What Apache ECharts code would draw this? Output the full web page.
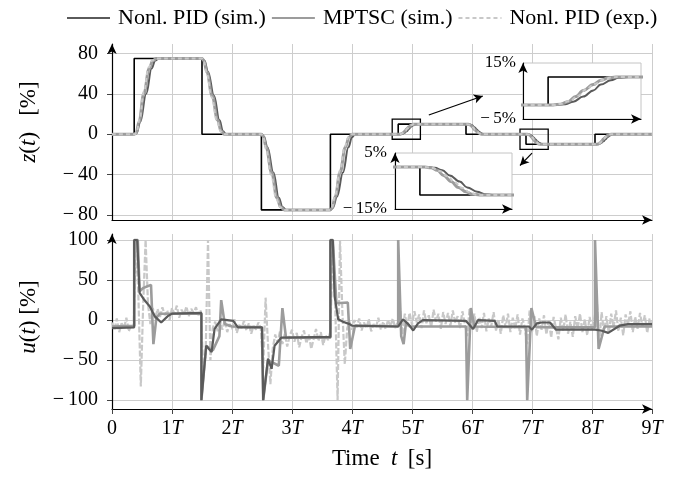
<!DOCTYPE html>
<html><head><meta charset="utf-8">
<script src="https://cdn.jsdelivr.net/npm/echarts@6/dist/echarts.min.js"></script>
<style>html,body{margin:0;padding:0;background:#fff}#c{width:685px;height:477px}</style>
</head><body><div id="c"></div><script>
// ---------- DATA (time in units of T) ----------
const xTickLabels = ['0','1{i|T}','2{i|T}','3{i|T}','4{i|T}','5{i|T}','6{i|T}','7{i|T}','8{i|T}','9{i|T}'];
const zTicks = [-80,-40,0,40,80];
const uTicks = [-100,-50,0,50,100];
const legendNames = ['Nonl. PID (sim.)','MPTSC (sim.)','Nonl. PID (exp.)'];

// reference (setpoint), step 'end'
const refT = [0,0.37,1.50,2.49,3.64,4.77,5.90,6.90,8.05,9];
const refZ = [0,75,0,-75,0,10,0,-10,0,0];

// position z(t) [%]
const pidZ = [[0,0],[0.37,0],[0.41,1],[0.47,12],[0.57,40],[0.66,65],[0.72,73],[0.78,75],
[1.50,75],[1.54,73],[1.60,62],[1.70,38],[1.79,14],[1.85,3],[1.90,0],
[2.49,0],[2.53,-2],[2.59,-13],[2.69,-38],[2.78,-63],[2.84,-72],[2.90,-75],
[3.64,-75],[3.68,-73],[3.75,-62],[3.85,-38],[3.94,-13],[4.00,-3],[4.05,0],
[4.77,0],[4.80,0],[4.84,0.3],[4.87,1.2],[4.91,3],[4.95,5.2],[4.98,7.3],[5.02,8.8],[5.05,9.7],[5.09,10],
[5.90,10],[5.93,10],[5.97,9.7],[6.00,8.8],[6.04,7],[6.08,4.8],[6.11,2.7],[6.15,1.2],[6.18,0.3],[6.22,0],
[6.90,0],[6.93,0],[6.96,-0.3],[6.99,-1.2],[7.02,-3],[7.06,-5.2],[7.09,-7.3],[7.13,-8.8],[7.16,-9.7],[7.19,-10],
[8.05,-10],[8.08,-10],[8.12,-9.7],[8.15,-8.8],[8.19,-7],[8.23,-4.8],[8.26,-2.7],[8.30,-1.2],[8.33,-0.3],[8.37,0],[9,0]];
const mpZ = [[0,0],[0.37,0],[0.40,1],[0.45,12],[0.53,40],[0.62,65],[0.68,73],[0.74,75],
[1.50,75],[1.53,73],[1.58,62],[1.67,38],[1.76,14],[1.82,3],[1.87,0],
[2.49,0],[2.52,-2],[2.57,-13],[2.66,-38],[2.75,-63],[2.81,-72],[2.87,-75],
[3.64,-75],[3.67,-73],[3.72,-62],[3.80,-38],[3.89,-13],[3.95,-3],[4.00,0],
[4.77,0],[4.79,0],[4.82,0.3],[4.85,1.2],[4.88,3],[4.91,5.2],[4.95,7.3],[4.98,8.8],[5.01,9.7],[5.04,10],
[5.90,10],[5.92,10],[5.95,9.7],[5.98,8.8],[6.01,7],[6.04,4.8],[6.08,2.7],[6.11,1.2],[6.14,0.3],[6.17,0],
[6.90,0],[6.92,0],[6.945,-0.3],[6.97,-1.2],[6.995,-3],[7.025,-5.2],[7.055,-7.3],[7.085,-8.8],[7.11,-9.7],[7.14,-10],
[8.05,-10],[8.07,-10],[8.10,-9.7],[8.13,-8.8],[8.16,-7],[8.19,-4.8],[8.23,-2.7],[8.26,-1.2],[8.29,-0.3],[8.32,0],[9,0]];
const expZ = [[0,0],[0.38,0],[0.41,2],[0.46,15],[0.53,42],[0.61,66],[0.67,73],[0.73,75],
[1.50,75],[1.53,72],[1.58,60],[1.66,37],[1.75,13],[1.81,3],[1.86,0],
[2.49,0],[2.52,-3],[2.57,-15],[2.65,-40],[2.74,-64],[2.80,-72],[2.86,-75],
[3.64,-75],[3.67,-72],[3.72,-60],[3.80,-36],[3.88,-12],[3.94,-3],[3.99,0],
[4.77,0],[4.79,0],[4.82,0.4],[4.855,1.4],[4.89,3.3],[4.92,5.5],[4.955,7.5],[4.99,9],[5.02,9.8],[5.05,10],
[5.90,10],[5.92,10],[5.95,9.6],[5.985,8.6],[6.02,6.7],[6.05,4.5],[6.085,2.5],[6.12,1],[6.15,0.2],[6.18,0],
[6.90,0],[6.92,0],[6.95,-0.4],[6.98,-1.4],[7.01,-3.3],[7.04,-5.5],[7.07,-7.5],[7.10,-9],[7.125,-9.8],[7.15,-10],
[8.05,-10],[8.07,-10],[8.10,-9.6],[8.135,-8.6],[8.17,-6.7],[8.20,-4.5],[8.235,-2.5],[8.27,-1],[8.30,-0.2],[8.33,0],[9,0]];

// control u(t) [%]
const pidU = [[0,-10],[0.37,-9],[0.37,100],[0.42,100],[0.46,34],[0.54,25],[0.63,17],[0.71,5],[0.82,-3],[0.93,5],[1.0,8],[1.49,9],
[1.49,-100],[1.57,-32],[1.66,-40],[1.71,-11],[1.82,1],[2.02,-1],[2.1,-9],[2.5,-9],
[2.52,-100],[2.6,-48],[2.66,-61],[2.71,-32],[2.82,-22],[3.64,-21],
[3.64,100],[3.68,100],[3.71,30],[3.77,1],[3.85,-2],[3.96,-5],[4.0,-7],[4.77,-8],
[4.85,1],[4.95,-6],[5.02,-13],[5.1,-4],[5.18,0],[5.9,-1],
[6.02,-11],[6.1,0],[6.38,-1],[6.42,-8],[6.9,-8],
[6.95,-8],[7.0,-12],[7.08,-4],[7.16,-3],[7.3,-3],[7.4,-12],[8.05,-12],
[8.15,-13],[8.27,-16],[8.46,-7],[8.6,-5],[9,-5]];
const mpU = [[0,-8],[0.37,-7],[0.37,100],[0.43,100],[0.46,36],[0.52,40],[0.65,44],[0.69,-30],[0.74,3],[0.8,8],[1.49,8],
[1.49,-100],[1.57,-32],[1.68,-38],[1.79,-20],[1.82,25],[1.88,-5],[2.0,-8],[2.5,-9],
[2.52,-100],[2.6,-50],[2.78,-57],[2.84,15],[2.9,-22],[3.64,-22],
[3.64,100],[3.68,100],[3.74,21],[3.93,22],[3.97,-36],[4.05,-7],[4.77,-8],
[4.77,100],[4.82,-20],[4.86,-30],[4.9,-3],[4.96,-8],[5.9,-8],
[5.92,-100],[5.98,15],[6.04,-8],[6.9,-9],
[6.92,-100],[6.99,15],[7.07,-9],[8.05,-9],
[8.05,100],[8.11,-36],[8.21,-8],[9,-8]];
// experimental control signal, sampled every expDt
const expDt = 0.04;
const expU = [-3,-12,2,-15,-4,-10,3,-14,-6,-9,
100,30,-83,20,100,20,-5,15,
2,14,4,16,6,12,0,15,8,18,3,13,7,17,5,14,9,16,6,12,
-60,-45,100,-50,-10,-2,
-14,-3,-12,0,-15,-5,-11,1,-16,-6,-10,-1,-13,-4,-17,-7,-12,-3,-10,
-60,28,-30,-80,-35,-18,
-28,-14,-30,-17,-33,-20,-12,-27,-16,-34,-21,-13,-29,-18,-36,-24,-11,-26,-15,-31,-19,-25,-14,
100,20,-100,100,10,-55,-10,-2,
-12,0,-9,2,-13,-3,-10,1,-14,-5,-9,3,-12,-2,-11,0,-8,2,-10,-3,
15,-18,8,
-8,9,-6,11,-3,7,-10,12,-4,6,-9,13,-2,8,-11,10,-5,9,-7,12,-3,5,-10,11,-4,
-20,15,-12,8,
-15,4,-10,9,-14,2,-8,10,-13,1,-17,6,-9,8,-15,3,-11,7,-18,2,-9,
-30,12,-15,5,
-20,2,-12,6,-18,0,-22,4,-10,-24,3,-13,7,-17,-2,-21,5,-11,8,-15,1,-19,4,-12,
0,25,-30,10,-15,
5,-17,8,-9,12,-14,3,-19,7,-6,11,-15,4,-11,9,-8,6,-16,2,-7];

// zoom boxes [tMin, tMax, zMin, zMax] and pointer arrows [[t0,z0],[t1,z1]]
const zoomBoxes = [[4.67,5.14,-5,15],[6.80,7.27,-15,5]];
const zoomArrows = [[[5.28,19.1],[6.18,37.9]],[[7.00,-18.8],[6.80,-31]]];

// ---------- STYLE ----------
const FONT = "'Liberation Serif','Times New Roman',serif";
const C_PID = '#5a5a5a', C_MP = '#9c9c9c', C_EXP = '#c8c8c8';
const rich = {i:{fontStyle:'italic', fontFamily:FONT, fontSize:20}};
const minus = v => v < 0 ? '\u2212\u2009' + Math.abs(v) : String(v);

const refData = refT.map((t,i)=>[t, refZ[i]]);
const expUData = expU.map((u,i)=>[+(i*expDt).toFixed(2), u]);

function zSeries(xi, yi, zl){
  const base = {type:'line', xAxisIndex:xi, yAxisIndex:yi, symbol:'none', animation:false, zlevel:zl, clip:true};
  return [
    Object.assign({}, base, {name:'Reference', data:refData, step:'end', lineStyle:{color:'#000', width:1.6}, itemStyle:{color:'#000'}}),
    Object.assign({}, base, {name:legendNames[0], data:pidZ, smooth:0.4, smoothMonotone:'x', lineStyle:{color:C_PID, width:2}, itemStyle:{color:C_PID}}),
    Object.assign({}, base, {name:legendNames[1], data:mpZ, smooth:0.4, smoothMonotone:'x', lineStyle:{color:C_MP, width:3}, itemStyle:{color:C_MP}}),
    Object.assign({}, base, {name:legendNames[2], data:expZ, smooth:0.4, smoothMonotone:'x', lineStyle:{color:C_EXP, width:2, type:[4,3]}, itemStyle:{color:C_EXP}})
  ];
}

const topSeries = zSeries(0,0,0);
topSeries[0].markArea = {silent:true, itemStyle:{color:'rgba(0,0,0,0)', borderColor:'#000', borderWidth:1.3},
  data: zoomBoxes.map(b=>[{xAxis:b[0], yAxis:b[3]},{xAxis:b[1], yAxis:b[2]}])};
topSeries[0].markLine = {silent:true, symbol:['none','arrow'], symbolSize:[7,9], animation:false,
  lineStyle:{color:'#000', width:1.2, type:'solid'}, label:{show:false},
  data: zoomArrows.map(a=>[{coord:a[0]},{coord:a[1]}])};

const series = [
  ...topSeries,
  {type:'line', name:legendNames[2], xAxisIndex:1, yAxisIndex:1, data:expUData, symbol:'none', animation:false,
    lineStyle:{color:C_EXP, width:2.2, type:[6,2]}, itemStyle:{color:C_EXP}},
  {type:'line', name:legendNames[1], xAxisIndex:1, yAxisIndex:1, data:mpU, symbol:'none', animation:false,
    lineStyle:{color:C_MP, width:2.6}, itemStyle:{color:C_MP}},
  {type:'line', name:legendNames[0], xAxisIndex:1, yAxisIndex:1, data:pidU, symbol:'none', animation:false,
    lineStyle:{color:C_PID, width:2.2}, itemStyle:{color:C_PID}},
  ...zSeries(2,2,1),
  ...zSeries(3,3,1)
];

const arrowLine = (w)=>({show:true, onZero:false, symbol:['none','arrow'], symbolSize:[7,10], lineStyle:{color:'#000', width:w}});
const grid = {lineStyle:{color:'#cdcdcd', width:1}};
const nameRich = {i:{fontStyle:'italic', fontFamily:FONT, fontSize:23}};

const option = {
  animation:false,
  backgroundColor:'#fff',
  textStyle:{fontFamily:FONT},
  legend:{data:legendNames, left:61, top:2, itemWidth:43, itemHeight:2, itemGap:5,
    textStyle:{fontFamily:FONT, fontSize:22, color:'#000', padding:[0,0,0,3]}},
  grid:[
    {left:112, top:44, width:540, height:176},
    {left:112, top:234, width:540, height:175},
    {left:523, top:63, width:118, height:56, show:true, backgroundColor:'#fff', borderColor:'#c4c4c4', borderWidth:1, zlevel:1},
    {left:395, top:153, width:117, height:56, show:true, backgroundColor:'#fff', borderColor:'#c4c4c4', borderWidth:1, zlevel:1}
  ],
  xAxis:[
    {type:'value', gridIndex:0, min:0, max:9, interval:1, axisLine:arrowLine(1.2), axisTick:{show:false}, axisLabel:{show:false}, splitLine:Object.assign({show:true}, grid)},
    {type:'value', gridIndex:1, min:0, max:9, interval:1, axisLine:arrowLine(1.2),
      axisTick:{show:true, length:5, lineStyle:{color:'#444'}},
      axisLabel:{margin:10, color:'#000', fontFamily:FONT, fontSize:20, formatter:v=>xTickLabels[Math.round(v)], rich:rich},
      splitLine:Object.assign({show:true}, grid),
      name:'Time\u2002{i|t}\u2009 [s]', nameLocation:'middle', nameGap:38,
      nameTextStyle:{fontFamily:FONT, fontSize:23, color:'#000', rich:nameRich}},
    {type:'value', gridIndex:2, min:zoomBoxes[0][0], max:zoomBoxes[0][1], zlevel:1, axisLine:arrowLine(1.1), axisTick:{show:false}, axisLabel:{show:false}, splitLine:{show:false}},
    {type:'value', gridIndex:3, min:zoomBoxes[1][0], max:zoomBoxes[1][1], zlevel:1, axisLine:arrowLine(1.1), axisTick:{show:false}, axisLabel:{show:false}, splitLine:{show:false}}
  ],
  yAxis:[
    {type:'value', gridIndex:0, min:-85, max:89.4, axisLine:arrowLine(1.2),
      axisTick:{show:true, length:5, customValues:zTicks, lineStyle:{color:'#444'}},
      axisLabel:{customValues:zTicks, margin:14, color:'#000', fontFamily:FONT, fontSize:20, formatter:minus},
      splitLine:Object.assign({show:true}, grid)},
    {type:'value', gridIndex:1, min:-111, max:107.5, axisLine:arrowLine(1.2),
      axisTick:{show:true, length:5, customValues:uTicks, lineStyle:{color:'#444'}},
      axisLabel:{customValues:uTicks, margin:14, color:'#000', fontFamily:FONT, fontSize:20, formatter:minus},
      splitLine:Object.assign({show:true}, grid)},
    {type:'value', gridIndex:2, min:zoomBoxes[0][2], max:zoomBoxes[0][3], interval:20, zlevel:1, axisLine:arrowLine(1.1), axisTick:{show:false},
      axisLabel:{showMinLabel:true, showMaxLabel:true, margin:7, color:'#000', fontFamily:FONT, fontSize:17, formatter:v=>minus(v)+'%'}, splitLine:{show:false}},
    {type:'value', gridIndex:3, min:zoomBoxes[1][2], max:zoomBoxes[1][3], interval:20, zlevel:1, axisLine:arrowLine(1.1), axisTick:{show:false},
      axisLabel:{showMinLabel:true, showMaxLabel:true, margin:8, color:'#000', fontFamily:FONT, fontSize:17, formatter:v=>minus(v)+'%'}, splitLine:{show:false}}
  ],
  graphic:[
    {type:'text', x:29, y:122, rotation:Math.PI/2, style:{text:'{i|z}({i|t})\u2002\u2009[%]', rich:nameRich, fontFamily:FONT, fontSize:23, fill:'#000', align:'center', verticalAlign:'middle'}},
    {type:'text', x:29, y:317, rotation:Math.PI/2, style:{text:'{i|u}({i|t}) [%]', rich:nameRich, fontFamily:FONT, fontSize:23, fill:'#000', align:'center', verticalAlign:'middle'}}
  ],
  series: series
};
const chart = echarts.init(document.getElementById('c'), null, {renderer:'canvas'});
chart.setOption(option);
</script></body></html>
